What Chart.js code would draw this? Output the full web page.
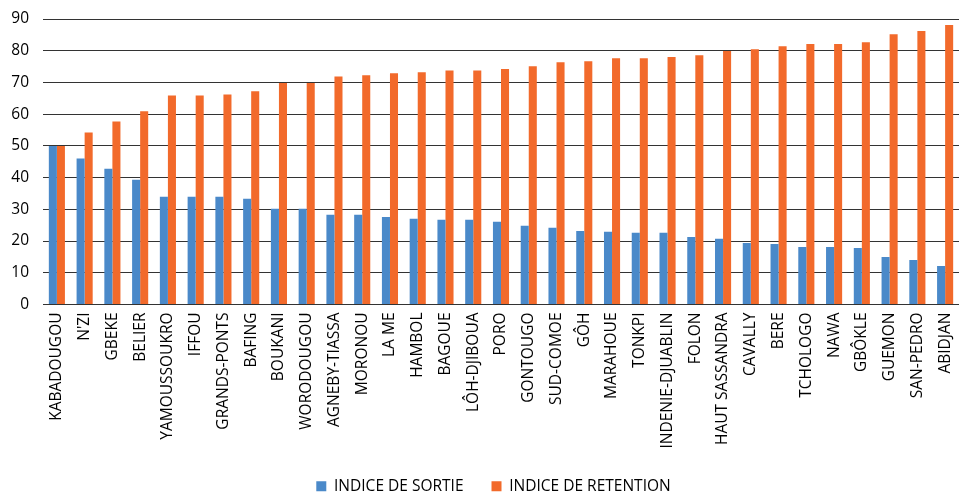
<!DOCTYPE html>
<html>
<head>
<meta charset="utf-8">
<script src="https://cdn.jsdelivr.net/npm/chart.js@4/dist/chart.umd.min.js"></script>
<style>
  html, body { margin: 0; padding: 0; background: #fff; }
  #wrap { width: 959px; height: 492px; }
</style>
</head>
<body>
<div id="wrap"><canvas id="chart"></canvas></div>
<script>
// regions, sorted by retention index
const regions = [
  "KABADOUGOU", "N'ZI", "GBEKE", "BELIER", "YAMOUSSOUKRO", "IFFOU", "GRANDS-PONTS", "BAFING",
  "BOUKANI", "WORODOUGOU", "AGNEBY-TIASSA", "MORONOU", "LA ME", "HAMBOL", "BAGOUE", "LÔH-DJIBOUA",
  "PORO", "GONTOUGO", "SUD-COMOE", "GÔH", "MARAHOUE", "TONKPI", "INDENIE-DJUABLIN", "FOLON",
  "HAUT SASSANDRA", "CAVALLY", "BERE", "TCHOLOGO", "NAWA", "GBÔKLE", "GUEMON", "SAN-PEDRO", "ABIDJAN"
];

const indiceSortie = [
  50.0, 46.0, 42.8, 39.3, 34.0, 34.0, 34.0, 33.3,
  30.2, 30.2, 28.3, 28.3, 27.6, 27.0, 26.7, 26.7,
  26.1, 24.8, 24.2, 23.2, 22.9, 22.6, 22.6, 21.3,
  20.7, 19.4, 19.1, 18.1, 18.1, 17.8, 15.0, 14.0, 12.1
];

const indiceRetention = [
  50.0, 54.2, 57.7, 60.9, 65.9, 65.9, 66.2, 67.2,
  69.8, 69.8, 71.9, 72.3, 72.9, 73.2, 73.8, 73.8,
  74.2, 75.1, 76.4, 76.7, 77.6, 77.6, 78.0, 78.6,
  79.9, 80.5, 81.4, 82.1, 82.1, 82.7, 85.2, 86.2, 88.1
];

const yTicks = [0, 10, 20, 30, 40, 50, 60, 70, 80, 90];

const FONT = "'Open Sans', sans-serif";
Chart.defaults.font.family = FONT;
Chart.defaults.color = "#000";

// legend sits a bit right of the canvas centre (centred on the plot area)
const legendShift = {
  id: "legendShift",
  afterLayout(chart) {
    if (!chart.legend) return;
    chart.legend.left += 14;
    chart.legend.right += 14;
  },
};

const ctx = document.getElementById("chart");

new Chart(ctx, {
  type: "bar",
  data: {
    labels: regions,
    datasets: [
      {
        label: "INDICE DE SORTIE",
        data: indiceSortie,
        backgroundColor: "#4a89c9",
      },
      {
        label: "INDICE DE RETENTION",
        data: indiceRetention,
        backgroundColor: "#f26a2b",
      },
    ],
  },
  plugins: [legendShift],
  options: {
    responsive: true,
    maintainAspectRatio: false,
    animation: false,
    layout: { padding: { top: 19, right: 0, left: 0, bottom: -12 } },
    datasets: {
      bar: { categoryPercentage: 0.58, barPercentage: 1.0 },
    },
    plugins: {
      legend: {
        position: "bottom",
        labels: {
          boxWidth: 10,
          boxHeight: 10,
          padding: 28,
          font: { size: 15.5 },
          color: "#000",
        },
      },
      tooltip: { enabled: false },
    },
    scales: {
      x: {
        grid: { display: false, drawTicks: false },
        border: { display: true, color: "#333", width: 1 },
        ticks: {
          minRotation: 90,
          maxRotation: 90,
          autoSkip: false,
          padding: 8,
          font: { size: 15.5 },
          color: "#000",
        },
        afterFit: (axis) => {
          axis.height = 146;
          axis.paddingLeft = 0;
          axis.paddingRight = 0;
        },
      },
      y: {
        min: 0,
        max: 90,
        afterBuildTicks: (axis) => { axis.ticks = yTicks.map((v) => ({ value: v })); },
        grid: { color: "#333", lineWidth: 1, drawTicks: false },
        border: { display: false },
        ticks: {
          padding: 14,
          font: { size: 15.5 },
          color: "#000",
        },
        afterFit: (axis) => {
          axis.width = 43;
          axis.paddingTop = 0;
          axis.paddingBottom = 0;
        },
      },
    },
  },
});
</script>
</body>
</html>
